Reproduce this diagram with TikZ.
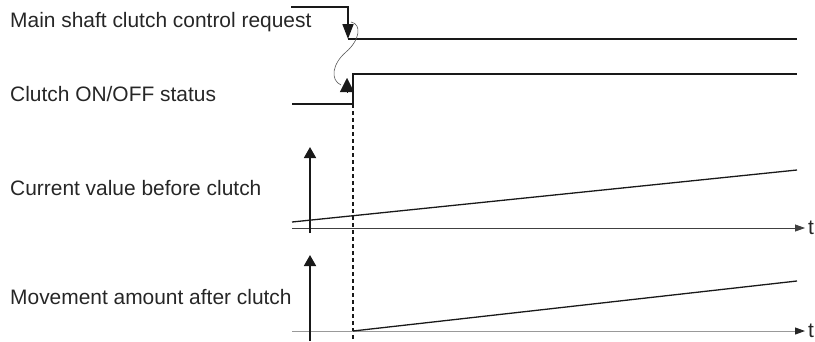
\documentclass[tikz,border=0pt]{standalone}
\usepackage{fontspec}
\setmainfont{Liberation Sans}
\usetikzlibrary{arrows.meta,positioning}

\begin{document}
\begin{tikzpicture}[x=1bp, y=-1bp,
  lbl/.style={anchor=base west, inner sep=0pt, font=\fontsize{21}{24}\selectfont, text=black!85},
  tlbl/.style={anchor=west, inner sep=0pt, font=\fontsize{21}{24}\selectfont, text=black!85},
  sig/.style={line width=1.7bp, black!90},
  sigarr/.style={line width=1.7bp, black!90, -{Triangle[length=15bp,width=11bp]}},
  axis/.style={line width=0.8bp, black!75, -{Triangle[length=10bp,width=7bp]}},
  grayaxis/.style={line width=1bp, black!40, -{Triangle[length=10bp,width=7bp,color=black!85]}},
  vert/.style={line width=1.8bp, black!90, -{Triangle[length=11bp,width=12bp]}},
  ramp/.style={line width=1.3bp, black!90},
  wave/.style={line width=0.6bp, black!65},
  edgemark/.style={line width=0.4bp, black!90, -{Triangle[length=14bp,width=14bp]}},
  dashedge/.style={line width=1.6bp, black!90, dash pattern=on 4bp off 3bp}
]
\useasboundingbox (0,0) rectangle (815,341);

\node[lbl] (reqlbl) at (10,27) {Main shaft clutch control request};
\node[lbl] (stslbl) at (10,101) {Clutch ON/OFF status};
\node[lbl] (curlbl) at (10,195) {Current value before clutch};
\node[lbl] (movlbl) at (10,304) {Movement amount after clutch};

\coordinate (req0) at (291,7);
\coordinate (req1) at (348,39);
\coordinate (req2) at (797,39);
\draw[sigarr] (req0) -| (req1);
\draw[sig] (req1) -- (req2);

\coordinate (sts0) at (292,104);
\coordinate (sts1) at (353,104);
\coordinate (sts2) at (353,74);
\coordinate (sts3) at (797,74);
\draw[sig] (sts0) -- (sts1) -- (sts2) -- (sts3);

\coordinate (wv0) at (351,22);
\coordinate (wv1) at (346,52);
\coordinate (wv2) at (341,85);
\draw[wave] (wv0) .. controls (362,24) and (360,40) .. (wv1) .. controls (332,64) and (330,80) .. (wv2);
\coordinate (mk0) at (347,92);
\coordinate (mk1) at (347,78);
\draw[edgemark] (mk0) -- (mk1);

\coordinate (edge0) at (353,104);
\coordinate (edge1) at (353,341);
\draw[dashedge] (edge0) -- (edge1);

\coordinate (ax0) at (292,228);
\coordinate (ax1) at (805,228);
\draw[axis] (ax0) -- (ax1);
\node[tlbl, right=3bp of ax1] (t1) {t};
\coordinate (up0) at (310,233);
\coordinate (up1) at (310,147);
\draw[vert] (up0) -- (up1);
\coordinate (cur0) at (292,222);
\coordinate (cur1) at (797,170);
\draw[ramp] (cur0) -- (cur1);

\coordinate (bx0) at (292,331);
\coordinate (bx1) at (805,331);
\draw[grayaxis] (bx0) -- (bx1);
\node[tlbl, right=3bp of bx1] (t2) {t};
\coordinate (vp0) at (310,341);
\coordinate (vp1) at (310,255);
\draw[vert] (vp0) -- (vp1);
\coordinate (mov0) at (353,331);
\coordinate (mov1) at (797,281);
\draw[ramp] (mov0) -- (mov1);

\end{tikzpicture}
\end{document}
